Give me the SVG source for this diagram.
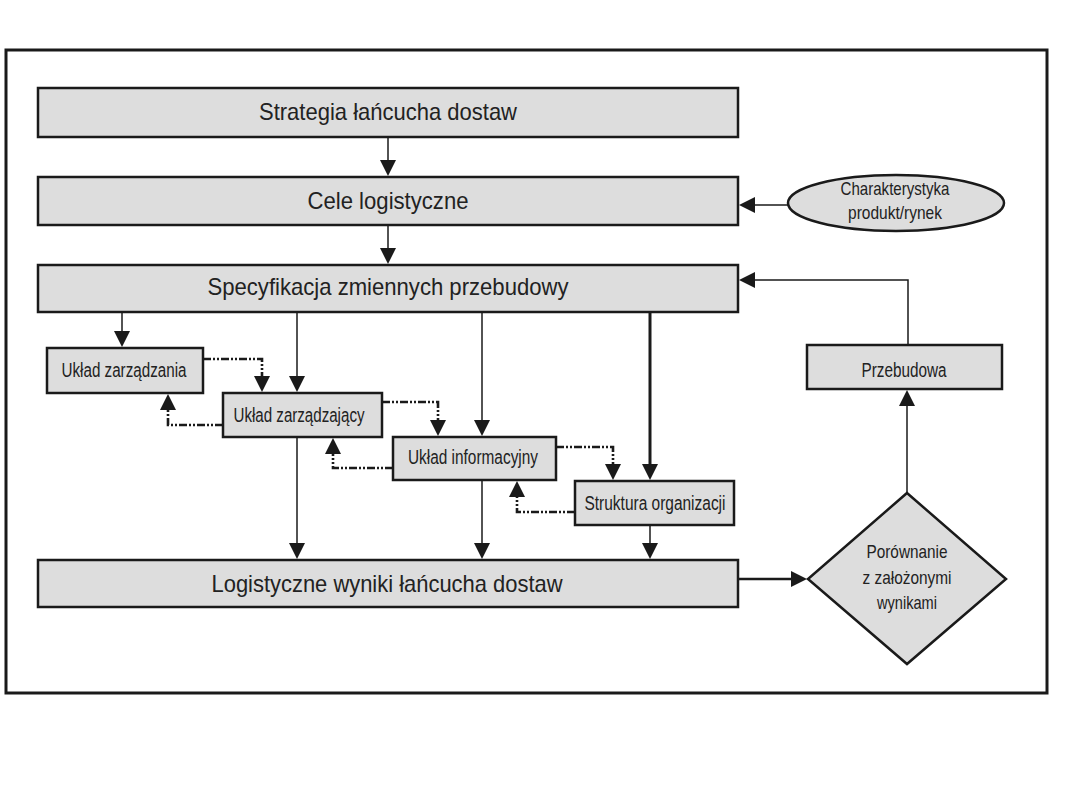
<svg xmlns="http://www.w3.org/2000/svg" width="1080" height="810" viewBox="0 0 1080 810">
<style>
.box{fill:#dddddd;stroke:#1a1a1a;stroke-width:2.5}
.t{font-family:"Liberation Sans",Arial,sans-serif;fill:#222;text-anchor:middle}
.big{font-size:24px}
.sm{font-size:20px}
.xs{font-size:19px}
.c{fill:none;stroke:#1a1a1a;stroke-width:1.5}
.thick{fill:none;stroke:#1a1a1a;stroke-width:3}
.dd{fill:none;stroke:#1a1a1a;stroke-width:2.6;stroke-dasharray:8 2 2 2 2 2}
</style>
<defs>
<marker id="ah" markerUnits="userSpaceOnUse" markerWidth="18" markerHeight="18" refX="1" refY="8" orient="auto" overflow="visible">
<path d="M0,0 L16,8 L0,16 z" fill="#1a1a1a"/>
</marker>
</defs>
<rect x="6" y="50" width="1041" height="643" fill="#fff" stroke="#1a1a1a" stroke-width="3"/>

<g id="connectors">
<path class="c" d="M388,137 V161" marker-end="url(#ah)"/>
<path class="c" d="M388,225 V249" marker-end="url(#ah)"/>
<path class="c" d="M788,205 H754" marker-end="url(#ah)"/>
<path class="c" d="M122,312 V332" marker-end="url(#ah)"/>
<path class="c" d="M297,312 V377" marker-end="url(#ah)"/>
<path class="c" d="M482,312 V421" marker-end="url(#ah)"/>
<path class="thick" d="M650,312 V465" marker-end="url(#ah)"/>
<path class="dd" d="M203,359 H262 V377" marker-end="url(#ah)"/>
<path class="dd" d="M223,425 H168 V409" marker-end="url(#ah)"/>
<path class="dd" d="M382,402 H438 V421" marker-end="url(#ah)"/>
<path class="dd" d="M393,468 H333 V453" marker-end="url(#ah)"/>
<path class="dd" d="M556,447 H613 V465" marker-end="url(#ah)"/>
<path class="dd" d="M575,512 H517 V496" marker-end="url(#ah)"/>
<path class="c" d="M297,437 V544" marker-end="url(#ah)"/>
<path class="c" d="M482,480 V544" marker-end="url(#ah)"/>
<path class="c" d="M650,525 V544" marker-end="url(#ah)"/>
<path class="thick" style="stroke-width:2.5" d="M738,579 H792" marker-end="url(#ah)"/>
<path class="c" d="M907,493 V405" marker-end="url(#ah)"/>
<path class="c" d="M908,345 V280 H754" marker-end="url(#ah)"/>
</g>

<g id="strategia">
<rect class="box" x="38" y="88" width="700" height="49"/>
<text class="t big" x="388" y="120" textLength="258" lengthAdjust="spacingAndGlyphs">Strategia łańcucha dostaw</text>
</g>
<g id="cele">
<rect class="box" x="38" y="177" width="700" height="48"/>
<text class="t big" x="388" y="209" textLength="161" lengthAdjust="spacingAndGlyphs">Cele logistyczne</text>
</g>
<g id="charakterystyka">
<ellipse cx="896" cy="203" rx="108" ry="28" class="box"/>
<text class="t xs" x="895" y="195" textLength="109" lengthAdjust="spacingAndGlyphs">Charakterystyka</text>
<text class="t xs" x="895" y="219" textLength="94" lengthAdjust="spacingAndGlyphs">produkt/rynek</text>
</g>
<g id="specyfikacja">
<rect class="box" x="38" y="265" width="700" height="47"/>
<text class="t big" x="388" y="295" textLength="361" lengthAdjust="spacingAndGlyphs">Specyfikacja zmiennych przebudowy</text>
</g>
<g id="uklad-zarzadzania">
<rect class="box" x="47" y="348" width="156" height="45"/>
<text class="t sm" x="124" y="377" textLength="125" lengthAdjust="spacingAndGlyphs">Układ zarządzania</text>
</g>
<g id="uklad-zarzadzajacy">
<rect class="box" x="223" y="393" width="159" height="44"/>
<text class="t sm" x="299" y="422" textLength="131" lengthAdjust="spacingAndGlyphs">Układ zarządzający</text>
</g>
<g id="uklad-informacyjny">
<rect class="box" x="393" y="437" width="163" height="43"/>
<text class="t sm" x="473" y="464" textLength="130" lengthAdjust="spacingAndGlyphs">Układ informacyjny</text>
</g>
<g id="struktura">
<rect class="box" x="575" y="481" width="159" height="44"/>
<text class="t sm" x="655" y="510" textLength="141" lengthAdjust="spacingAndGlyphs">Struktura organizacji</text>
</g>
<g id="przebudowa">
<rect class="box" x="807" y="345" width="195" height="44"/>
<text class="t sm" x="904" y="377" textLength="85" lengthAdjust="spacingAndGlyphs">Przebudowa</text>
</g>
<g id="logistyczne">
<rect class="box" x="38" y="560" width="700" height="47"/>
<text class="t big" x="387" y="592" textLength="351" lengthAdjust="spacingAndGlyphs">Logistyczne wyniki łańcucha dostaw</text>
</g>
<g id="porownanie">
<polygon class="box" points="907,493 1006,579 907,664 808,579"/>
<text class="t xs" x="907" y="558" textLength="81" lengthAdjust="spacingAndGlyphs">Porównanie</text>
<text class="t xs" x="907" y="584" textLength="89" lengthAdjust="spacingAndGlyphs">z założonymi</text>
<text class="t xs" x="907" y="609" textLength="60" lengthAdjust="spacingAndGlyphs">wynikami</text>
</g>
</svg>
